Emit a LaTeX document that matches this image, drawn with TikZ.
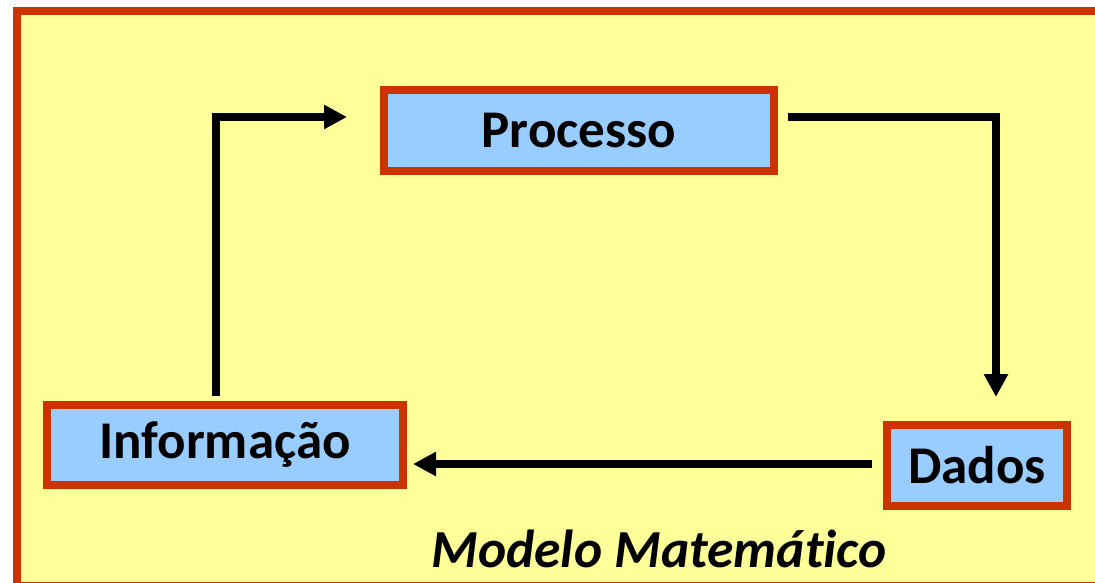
\documentclass[tikz,border=0pt]{standalone}
\usepackage{fontspec}
\setmainfont{Carlito}[Ligatures=NoCommon]
\usetikzlibrary{arrows.meta,calc}
\definecolor{paleyellow}{HTML}{FFFF99}
\definecolor{brickred}{HTML}{CC3300}
\definecolor{skyblue}{HTML}{99CCFF}

\begin{document}
\begin{tikzpicture}[x=1pt,y=-1pt,->,>={Triangle[length=23pt,width=23pt]},line width=8pt]
  \tikzstyle{box}=[draw=brickred,fill=skyblue,text=black,line width=8pt,inner sep=0pt,
    font=\fontsize{53}{60}\selectfont\bfseries]
  \tikzstyle{flow}=[draw=black,line width=8pt]

  \useasboundingbox (0,0) rectangle (1095,583);
  \clip (0,0) rectangle (1095,583);
  \draw[-,draw=brickred,fill=paleyellow] (17,11) rectangle (1099,586);

  \node[box,minimum width=390pt,minimum height=81pt] (proc) at (579,130.5) {Processo};
  \node[box,minimum width=180pt,minimum height=81pt] (dados) at (977,465.5) {Dados};
  \node[box,minimum width=356pt,minimum height=80pt] (info) at (225,445) {Informação};
  \node[anchor=base,font=\fontsize{53.5}{60}\selectfont\bfseries\itshape] (modelo) at (659,567) {Modelo Matemático};

  \draw[flow] ([shift={(-9pt,5pt)}]info.north) |- ([shift={(-33pt,13.5pt)}]proc.west);
  \draw[flow] ([shift={(10pt,13.5pt)}]proc.east) -| ([shift={(19pt,24pt)}]dados.north);
  \draw[flow] ([shift={(-11pt,1.5pt)}]dados.west) -- ($(info.east |- dados.west)+(6pt,1.5pt)$);
\end{tikzpicture}
\end{document}
